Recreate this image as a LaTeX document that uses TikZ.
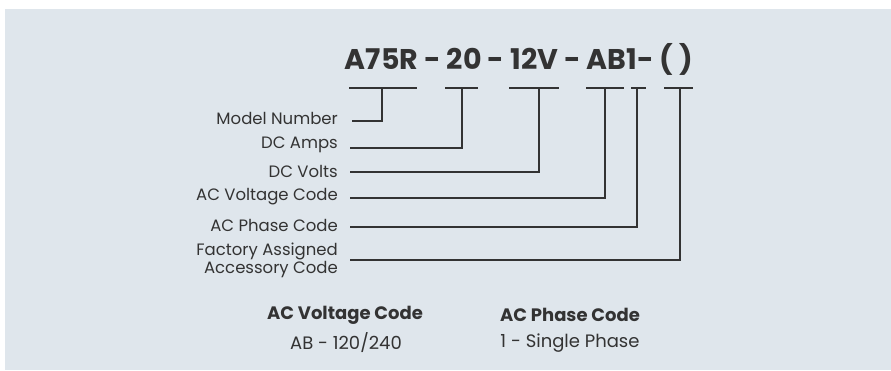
\documentclass[tikz,border=0pt]{standalone}
\usepackage{fontspec}
\setmainfont{Poppins}
\definecolor{panel}{HTML}{DFE6EC}
\definecolor{ink}{HTML}{333333}
\begin{document}
\begin{tikzpicture}[x=1pt,y=-1pt,
  lab/.style={anchor=east,inner sep=0pt,text=ink,font=\fontsize{16.5}{18}\selectfont,align=right},
  head/.style={inner sep=0pt,text=ink,font=\fontsize{18}{20}\selectfont\bfseries},
  val/.style={inner sep=0pt,text=ink,font=\fontsize{18}{20}\selectfont},
  wire/.style={draw=ink,line width=1.6pt},
  uline/.style={draw=ink,line width=1.6pt}]
\useasboundingbox (0,0) rectangle (891,370);
\fill[white] (0,0) rectangle (891,370);
\fill[panel] (5,9) rectangle (891,370);
% title
\node[inner sep=0pt,text=ink,font=\fontsize{28.5}{31}\selectfont\bfseries] (title) at (519,59) {A75R - 20 - 12V - AB1- ( )};
% underlines
\coordinate (u1a) at (349,88); \coordinate (u1b) at (417,88); \coordinate (u1) at (382,88);
\coordinate (u2a) at (445,88); \coordinate (u2b) at (478,88); \coordinate (u2) at (462,88);
\coordinate (u3a) at (509,88); \coordinate (u3b) at (559,88); \coordinate (u3) at (539,88);
\coordinate (u4a) at (586,88); \coordinate (u4b) at (624,88); \coordinate (u4) at (605,88);
\coordinate (u5a) at (631,88); \coordinate (u5b) at (646,88); \coordinate (u5) at (637,88);
\coordinate (u6a) at (664,88); \coordinate (u6b) at (693,88); \coordinate (u6) at (680,88);
\foreach \i in {1,...,6} \draw[uline] (u\i a) -- (u\i b);
% labels
\node[lab] (l1) at (338,118) {Model Number};
\node[lab] (l2) at (338,145) {DC Amps};
\node[lab] (l3) at (338,171) {DC Volts};
\node[lab] (l4) at (338,197) {AC Voltage Code};
\node[lab] (l5) at (338,225) {AC Phase Code};
\node[lab] (l6) at (338,260) {Factory Assigned\\Accessory Code};
% wire starts
\coordinate (s1) at (352,121);
\coordinate (s2) at (350,148);
\coordinate (s3) at (350,172);
\coordinate (s4) at (350,198);
\coordinate (s5) at (350,227);
\coordinate (s6) at (350,260);
\foreach \i in {1,...,6} \draw[wire] (s\i) -| (u\i);
% legend
\node[head] (h1) at (345,315) {AC Voltage Code};
\node[val] (v1) at (346,343) {AB - 120/240};
\node[head] (h2) at (570,315) {AC Phase Code};
\node[val] (v2) at (570,343) {1 - Single Phase};
\end{tikzpicture}
\end{document}
